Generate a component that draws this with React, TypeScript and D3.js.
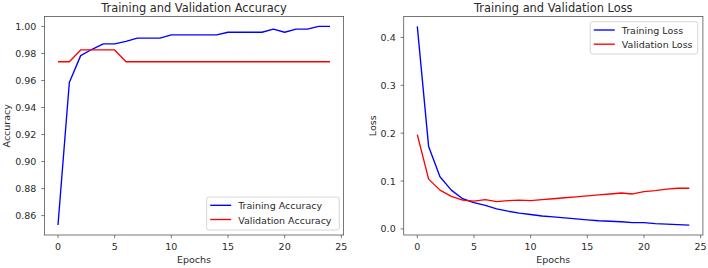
import React from "react";
import * as d3 from "d3";

const epochs = d3.range(0, 25);
const trainAcc = [0.853, 0.9585, 0.9784, 0.9831, 0.9871, 0.9871, 0.989, 0.9913, 0.9913, 0.9913, 0.9938, 0.9938, 0.9938, 0.9938, 0.9938, 0.9957, 0.9957, 0.9957, 0.9957, 0.998, 0.9957, 0.998, 0.998, 1.0, 1.0];
const valAcc = [0.9739, 0.9739, 0.9826, 0.9826, 0.9826, 0.9826, 0.9739, 0.9739, 0.9739, 0.9739, 0.9739, 0.9739, 0.9739, 0.9739, 0.9739, 0.9739, 0.9739, 0.9739, 0.9739, 0.9739, 0.9739, 0.9739, 0.9739, 0.9739, 0.9739];
const trainLoss = [0.423, 0.172, 0.109, 0.081, 0.063, 0.055, 0.049, 0.042, 0.037, 0.033, 0.03, 0.027, 0.025, 0.023, 0.021, 0.019, 0.017, 0.016, 0.015, 0.013, 0.013, 0.011, 0.01, 0.009, 0.008];
const valLoss = [0.197, 0.104, 0.081, 0.068, 0.06, 0.058, 0.061, 0.057, 0.059, 0.06, 0.059, 0.061, 0.063, 0.065, 0.067, 0.069, 0.071, 0.073, 0.075, 0.073, 0.078, 0.08, 0.083, 0.085, 0.085];
const xTicks = [0, 5, 10, 15, 20, 25];
const accTicks = [0.86, 0.88, 0.9, 0.92, 0.94, 0.96, 0.98, 1.0];
const lossTicks = [0.0, 0.1, 0.2, 0.3, 0.4];

const FONT = "DejaVu Sans";
const TXT = "#2a2a2a";
const FRAME = "#555";
const FS = 9.5;
const TFS = 11.4;

type PanelProps = {
  left: number;
  right: number;
  top: number;
  bottom: number;
  title: string;
  ylabel: string;
  ylabelX: number;
  train: number[];
  val: number[];
  yTicks: number[];
  yFmt: (v: number) => string;
  trainName: string;
  valName: string;
  legend: { x: number; y: number; w: number; h: number };
};

function Panel(p: PanelProps) {
  const all = [...p.train, ...p.val];
  const ymin = d3.min(all)!;
  const ymax = d3.max(all)!;
  const ypad = (ymax - ymin) * 0.05;
  const x = d3.scaleLinear().domain([-1.2, 25.2]).range([p.left, p.right]);
  const y = d3.scaleLinear().domain([ymin - ypad, ymax + ypad]).range([p.bottom, p.top]);
  const line = d3
    .line<number>()
    .x((_, i) => x(epochs[i]))
    .y((d) => y(d));
  const cx = (p.left + p.right) / 2;
  const cy = (p.top + p.bottom) / 2;
  const L = p.legend;
  const l1 = L.y + 8.3;
  const l2 = L.y + 22.5;
  return (
    <g>
      <text x={cx} y={12.3} textAnchor="middle" fontFamily={FONT} fontSize={TFS} fill={TXT}>
        {p.title}
      </text>
      <path d={line(p.train) || ""} fill="none" stroke="#0000ff" strokeWidth={1.35} strokeLinejoin="round" />
      <path d={line(p.val) || ""} fill="none" stroke="#ff0000" strokeWidth={1.35} strokeLinejoin="round" />
      <rect x={p.left} y={p.top} width={p.right - p.left} height={p.bottom - p.top} fill="none" stroke={FRAME} strokeWidth={0.8} />
      {xTicks.map((t) => (
        <g key={"x" + t}>
          <line x1={x(t)} x2={x(t)} y1={p.bottom} y2={p.bottom + 3.1} stroke={FRAME} strokeWidth={0.8} />
          <text x={x(t)} y={p.bottom + 15.3} textAnchor="middle" fontFamily={FONT} fontSize={FS} fill={TXT}>
            {t}
          </text>
        </g>
      ))}
      {p.yTicks.map((t) => (
        <g key={"y" + t}>
          <line x1={p.left - 3.1} x2={p.left} y1={y(t)} y2={y(t)} stroke={FRAME} strokeWidth={0.8} />
          <text x={p.left - 8} y={y(t) + 3.5} textAnchor="end" fontFamily={FONT} fontSize={FS} fill={TXT}>
            {p.yFmt(t)}
          </text>
        </g>
      ))}
      <text x={cx} y={263.3} textAnchor="middle" fontFamily={FONT} fontSize={FS} fill={TXT}>
        Epochs
      </text>
      <text
        transform={`translate(${p.ylabelX},${cy}) rotate(-90)`}
        textAnchor="middle"
        fontFamily={FONT}
        fontSize={FS}
        fill={TXT}
      >
        {p.ylabel}
      </text>
      <rect x={L.x} y={L.y} width={L.w} height={L.h} rx={2} ry={2} fill="white" fillOpacity={0.8} stroke="#cccccc" strokeWidth={0.8} />
      <line x1={L.x + 3.5} x2={L.x + 24.5} y1={l1} y2={l1} stroke="#0000ff" strokeWidth={1.35} />
      <line x1={L.x + 3.5} x2={L.x + 24.5} y1={l2} y2={l2} stroke="#ff0000" strokeWidth={1.35} />
      <text x={L.x + 31.5} y={l1 + 4} fontFamily={FONT} fontSize={FS} fill={TXT}>
        {p.trainName}
      </text>
      <text x={L.x + 31.5} y={l2 + 4} fontFamily={FONT} fontSize={FS} fill={TXT}>
        {p.valName}
      </text>
    </g>
  );
}

export default function App() {
  return (
    <svg
      width={708}
      height={268}
      style={{ position: "absolute", left: 0, top: 0, background: "white" }}
    >
      <rect x={0} y={0} width={708} height={268} fill="white" />
      <Panel
        left={44.4}
        right={343.6}
        top={16.5}
        bottom={235}
        title="Training and Validation Accuracy"
        ylabel="Accuracy"
        ylabelX={9.5}
        train={trainAcc}
        val={valAcc}
        yTicks={accTicks}
        yFmt={(v) => d3.format(".2f")(v)}
        trainName="Training Accuracy"
        valName="Validation Accuracy"
        legend={{ x: 206.7, y: 197, w: 132.6, h: 33 }}
      />
      <Panel
        left={403.7}
        right={702.9}
        top={16.5}
        bottom={235}
        title="Training and Validation Loss"
        ylabel="Loss"
        ylabelX={375.5}
        train={trainLoss}
        val={valLoss}
        yTicks={lossTicks}
        yFmt={(v) => d3.format(".1f")(v)}
        trainName="Training Loss"
        valName="Validation Loss"
        legend={{ x: 590.3, y: 21.7, w: 107.4, h: 32.3 }}
      />
    </svg>
  );
}
